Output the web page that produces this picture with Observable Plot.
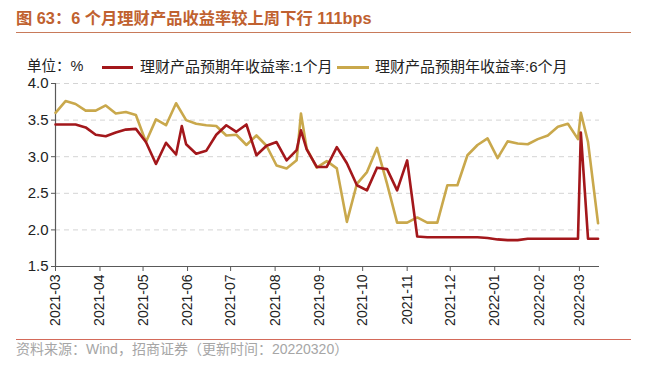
<!DOCTYPE html>
<html><head><meta charset="utf-8">
<script src="https://cdn.jsdelivr.net/npm/d3@7"></script>
<script src="https://cdn.jsdelivr.net/npm/@observablehq/plot@0.6"></script>
<style>
body{margin:0;background:#fff;}
#wrap{position:relative;width:651px;height:368px;overflow:hidden;font-family:"Liberation Sans","Noto Sans CJK SC",sans-serif;background:#fff;}
#title{position:absolute;left:16px;top:8px;font-size:16.3px;font-weight:bold;color:#c0612f;white-space:nowrap;line-height:20px;}
#titleLine{position:absolute;left:16px;top:32px;width:615px;height:1px;background:#c87a5a;}
#unit{position:absolute;left:27px;top:57px;font-size:14.5px;color:#222;line-height:18px;white-space:nowrap;}
.leg{position:absolute;top:58px;font-size:15px;color:#222;line-height:18px;white-space:nowrap;}
.sw{position:absolute;height:3px;top:66px;}
#chart{position:absolute;left:0;top:0;}
#srcLine{position:absolute;left:16px;top:339px;width:615px;height:1px;background:#d46a5a;}
#source{position:absolute;left:16px;top:341px;font-size:14px;color:#a6a6a6;line-height:16px;white-space:nowrap;}
</style></head><body>
<div id="wrap">
<div id="title">图 63：6 个月理财产品收益率较上周下行 111bps</div>
<div id="titleLine"></div>
<div id="unit">单位：%</div>
<div class="sw" id="sw1" style="left:102px;width:31px;"></div>
<div class="leg" id="leg1" style="left:140px;"></div>
<div class="sw" id="sw6" style="left:337px;width:32px;"></div>
<div class="leg" id="leg6" style="left:375px;"></div>
<div id="chart"></div>
<div id="srcLine"></div>
<div id="source">资料来源：Wind，招商证券（更新时间：20220320）</div>
</div>
<script>
const seriesNames = ["理财产品预期年收益率:1个月", "理财产品预期年收益率:6个月"];
const seriesColors = ["#a3171b", "#c9a84c"];

const dates1M = ["2021-03-01","2021-03-08","2021-03-15","2021-03-22","2021-03-29","2021-04-05","2021-04-12","2021-04-19","2021-04-26","2021-05-03","2021-05-10","2021-05-17","2021-05-24","2021-05-28","2021-05-31","2021-06-07","2021-06-14","2021-06-21","2021-06-28","2021-07-05","2021-07-12","2021-07-19","2021-07-26","2021-08-02","2021-08-09","2021-08-16","2021-08-19","2021-08-23","2021-08-30","2021-09-06","2021-09-13","2021-09-20","2021-09-27","2021-10-04","2021-10-11","2021-10-18","2021-10-25","2021-11-01","2021-11-08","2021-11-15","2021-11-22","2021-11-29","2021-12-06","2021-12-13","2021-12-20","2021-12-27","2022-01-03","2022-01-10","2022-01-17","2022-01-24","2022-01-31","2022-02-07","2022-02-14","2022-02-21","2022-02-28","2022-03-02","2022-03-07","2022-03-14"];
const values1M = [3.44,3.44,3.44,3.40,3.30,3.28,3.33,3.37,3.38,3.20,2.90,3.19,3.03,3.42,3.17,3.04,3.08,3.30,3.43,3.34,3.44,3.02,3.15,3.20,2.95,3.09,3.36,3.10,2.86,2.86,3.13,2.91,2.61,2.54,2.85,2.83,2.54,2.95,1.91,1.90,1.90,1.90,1.90,1.90,1.90,1.89,1.87,1.86,1.86,1.88,1.88,1.88,1.88,1.88,1.88,3.33,1.88,1.88];

const dates6M = ["2021-03-01","2021-03-08","2021-03-15","2021-03-22","2021-03-29","2021-04-05","2021-04-12","2021-04-19","2021-04-26","2021-05-03","2021-05-10","2021-05-17","2021-05-24","2021-05-31","2021-06-07","2021-06-14","2021-06-21","2021-06-28","2021-07-05","2021-07-12","2021-07-19","2021-07-26","2021-08-02","2021-08-09","2021-08-16","2021-08-19","2021-08-23","2021-08-30","2021-09-06","2021-09-13","2021-09-20","2021-09-27","2021-10-04","2021-10-11","2021-10-18","2021-10-25","2021-11-01","2021-11-08","2021-11-15","2021-11-22","2021-11-29","2021-12-06","2021-12-13","2021-12-20","2021-12-27","2022-01-03","2022-01-10","2022-01-17","2022-01-24","2022-01-31","2022-02-07","2022-02-14","2022-02-21","2022-02-28","2022-03-02","2022-03-07","2022-03-14"];
const values6M = [3.60,3.76,3.72,3.63,3.63,3.70,3.59,3.61,3.57,3.20,3.51,3.43,3.73,3.50,3.45,3.43,3.42,3.29,3.30,3.16,3.29,3.15,2.88,2.84,2.95,3.59,3.11,2.85,2.94,2.84,2.11,2.63,2.79,3.12,2.63,2.10,2.10,2.17,2.10,2.10,2.61,2.61,3.02,3.16,3.25,2.98,3.21,3.18,3.17,3.24,3.29,3.41,3.45,3.24,3.60,3.20,2.09];

const xTickLabels = ["2021-03","2021-04","2021-05","2021-06","2021-07","2021-08","2021-09","2021-10","2021-11","2021-12","2022-01","2022-02","2022-03"];
const yTicks = [1.5, 2.0, 2.5, 3.0, 3.5, 4.0];
const xDomain = ["2021-03-01", "2022-03-15"];

const parse = d3.utcParse("%Y-%m-%d");
const parseM = d3.utcParse("%Y-%m");
const data1 = dates1M.map((d, i) => ({date: parse(d), value: values1M[i]}));
const data6 = dates6M.map((d, i) => ({date: parse(d), value: values6M[i]}));
const tickDates = xTickLabels.map(parseM);

document.getElementById("sw1").style.background = seriesColors[0];
document.getElementById("sw6").style.background = seriesColors[1];
document.getElementById("leg1").textContent = seriesNames[0];
document.getElementById("leg6").textContent = seriesNames[1];

const plot = Plot.plot({
  width: 651,
  height: 340,
  marginLeft: 55,
  marginRight: 52,
  marginTop: 83,
  marginBottom: 74,
  style: {fontFamily: "Liberation Sans, Arial, sans-serif", color: "#222", background: "transparent", overflow: "visible"},
  x: {type: "utc", domain: xDomain.map(parse)},
  y: {domain: [1.5, 4.0]},
  marks: [
    Plot.ruleY(yTicks.filter(v => v > 1.5), {stroke: "#d4d4d4", strokeDasharray: "5,4", strokeWidth: 1}),
    Plot.ruleY([1.5], {stroke: "#595959", strokeWidth: 1.2}),
    Plot.ruleX([parse(xDomain[0])], {stroke: "#595959", strokeWidth: 1.2}),
    Plot.axisY({ticks: yTicks, tickFormat: d3.format(".1f"), tickSize: 4, tickPadding: 3, fontSize: 15, stroke: "#595959", label: null}),
    Plot.axisX({ticks: tickDates, tickFormat: d3.utcFormat("%Y-%m"), tickSize: 5, tickPadding: 3, tickRotate: -90, fontSize: 14, stroke: "#595959", label: null}),
    Plot.lineY(data6, {x: "date", y: "value", stroke: seriesColors[1], strokeWidth: 2.6}),
    Plot.lineY(data1, {x: "date", y: "value", stroke: seriesColors[0], strokeWidth: 2.6})
  ]
});
document.getElementById("chart").appendChild(plot);
</script>
</body></html>
